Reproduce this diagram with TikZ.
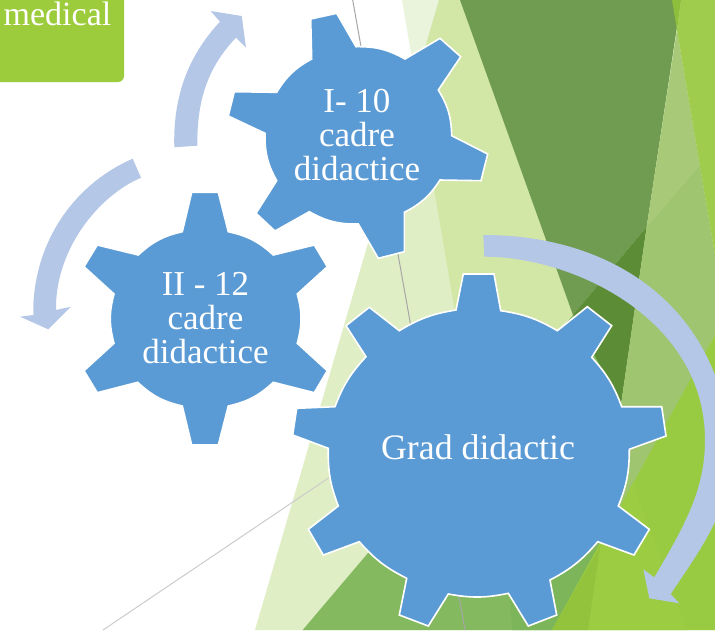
\documentclass[tikz,border=0pt]{standalone}
\usepackage{fontspec}
\setmainfont{Liberation Serif}
\definecolor{gearblue}{HTML}{5B9BD5}
\definecolor{arrowblue}{HTML}{B4C7E7}
\definecolor{boxgreen}{HTML}{9CCB3B}
\definecolor{paleA}{HTML}{E0EEC5}
\definecolor{paleB}{HTML}{EAF3DB}
\definecolor{paleC}{HTML}{D2E6A6}
\definecolor{darkA}{HTML}{6F9C50}
\definecolor{darkB}{HTML}{5C8D36}
\definecolor{midA}{HTML}{85B95F}
\definecolor{midB}{HTML}{7DB55A}
\definecolor{lightA}{HTML}{A8CA78}
\definecolor{lightB}{HTML}{A0C570}
\definecolor{brightA}{HTML}{99CB42}
\definecolor{brightB}{HTML}{9BCC41}
\definecolor{brightC}{HTML}{93C33D}
\definecolor{brightD}{HTML}{8DBE3C}
\definecolor{brightE}{HTML}{9FCC4C}
\tikzset{
  gearbody/.style={fill=gearblue,draw=white,line width=1.6pt,line join=miter},
  gearlabel/.style={text=white,align=center,font=\fontsize{35}{34}\selectfont,inner sep=0pt},
  cycle arrow/.style={fill=arrowblue,draw=none},
  rb/.style={bend left=#1},
}
\begin{document}
\begin{tikzpicture}[x=1pt,y=-1pt]
\useasboundingbox (0,0) rectangle (715,630);
\begin{scope}
\clip (0,0) rectangle (715,630);
\fill[white] (0,0) rectangle (715,630);
% background facets
\fill[paleA] (255,630) -- (439,0) -- (715,0) -- (715,630) -- cycle;
\fill[paleB] (402,0) -- (439,0) -- (415.6,80) -- cycle;
\fill[paleC] (439,0) -- (460,0) -- (573,315) -- (540,345) -- (460.6,345) -- (415.6,80) -- cycle;
\fill[darkA] (460,0) -- (681,0) -- (646.7,226.7) -- (573,315) -- cycle;
\fill[darkB] (573,315) -- (646.7,226.7) -- (621,405) -- (560,405) -- cycle;
\fill[midA] (302.7,630) -- (368,553) -- (573,315) -- (621,405) -- (600,547) -- (552,630) -- cycle;
\fill[midB] (510,600) -- (512,630) -- (552,630) -- (600,547) -- cycle;
\fill[lightA] (677,30) -- (646.7,226.7) -- (699.8,164.6) -- cycle;
\fill[lightB] (646.7,226.7) -- (699.8,164.6) -- (715,255) -- (715,335) -- (600,547) -- (600,405) -- (621,405) -- cycle;
\fill[brightD] (672,0) -- (681,0) -- (677,30) -- cycle;
\fill[brightE] (677,30) -- (681,0) -- (715,0) -- (715,255) -- cycle;
\fill[brightA] (552,630) -- (715,335) -- (715,630) -- cycle;
\fill[brightB] (600,547) -- (633,483) -- (687,630) -- (588,630) -- cycle;
\fill[brightC] (552,630) -- (600,547) -- (588,630) -- cycle;
% thin lines
\draw[color=black!35,line width=1pt] (352.7,0) -- (465,630);
\draw[color=black!20,line width=1pt] (103,630) -- (330,477);
% box
\fill[boxgreen] (0,-10) -- (124,-10) -- (124,76) arc[start angle=0,end angle=90,radius=6] -- (0,82) -- cycle;
\node[text=white,anchor=base east,font=\fontsize{34}{34}\selectfont,inner sep=0pt] (medical) at (111.5,25) {medical};
% arrows
\fill[cycle arrow] (174.3,147.3) .. controls (173,100) and (186,58) .. (220,21.7)
  -- (210.7,11) -- (241.7,16) -- (246,47.7) -- (236,37.7)
  .. controls (205,70) and (197,105) .. (197.3,145.7) -- cycle;
\fill[cycle arrow] (132.7,158.7) .. controls (68,187) and (32,250) .. (33.3,315)
  -- (20,316.7) -- (48.3,329.3) -- (71,306.7) -- (56,310)
  .. controls (55,250) and (98,196) .. (141,177.7) -- cycle;
\fill[cycle arrow] (483.3,235) .. controls (630,235) and (730,325) .. (730,460)
  .. controls (730,510) and (700,550) .. (670.7,594)
  -- (679.3,603.3) -- (649.3,598.3) -- (643.3,569.3) -- (654.3,577.3)
  .. controls (685,525) and (705,490) .. (705,440)
  .. controls (705,320) and (575,256.7) .. (484.3,256.7) -- cycle;
% gear I
\draw[gearbody] (310.7,19) -- (336.7,13.3) -- (356,46.7) to[rb=15] (405,59) -- (440,38.3) -- (460.7,56.7) -- (438.3,90) to[rb=15] (451.7,135.7)
 -- (487.7,154) -- (481,180.7) -- (440,180) to[rb=15] (404.3,212.3) -- (404.3,251.7) -- (378.3,258.3) -- (358.3,224) to[rb=15] (309.3,211.7)
 -- (275,231) -- (256,213.3) -- (276.7,180.7) to[rb=15] (265,133.3) -- (228.3,116) -- (234.3,91.7) -- (276.7,92.3) to[rb=15] (311.7,59) -- cycle;
\node[gearlabel] (gearone) at (357,134.8) {I- 10\\cadre\\didactice};
% gear II
\draw[gearbody] (191.7,192.3) -- (218.3,192.3) -- (228.3,231.7) to[rb=15] (273.3,255) -- (314.3,245) -- (327.3,266.7) -- (297.3,294) to[rb=15] (297.3,343.3)
 -- (327.3,370.7) -- (314.3,392.7) -- (273.3,382.3) to[rb=15] (228.3,406) -- (218.3,445) -- (191.7,445) -- (182.3,406) to[rb=15] (137.7,382.3)
 -- (97.3,392.7) -- (84,370.7) -- (114,343.3) to[rb=15] (114,294) -- (84,266.7) -- (97.3,245) -- (138.3,255) to[rb=15] (182.3,231.7) -- cycle;
\node[gearlabel] (geartwo) at (205.5,317.8) {II - 12\\cadre\\didactice};
% big gear
\draw[gearbody] (463.3,274) -- (494,274) -- (500.7,310.7) to[rb=11] (557.3,330.7) -- (587.3,306.7) -- (611.7,325.7) -- (591.7,357.3) to[rb=11] (621.7,406.7)
 -- (661.7,406.7) -- (666,436) -- (629.3,449.3) to[rb=11] (618.3,506) -- (649.3,529.3) -- (634,555) -- (597.7,541.7) to[rb=11] (550,580)
 -- (556.7,615) -- (528.3,626) -- (508.3,593.3) to[rb=11] (448.3,594) -- (428.3,626) -- (399.3,615) -- (406.7,578.3) to[rb=11] (359.3,541.7)
 -- (323.3,555) -- (308.3,529.3) -- (338.3,506) to[rb=11] (328.3,448.3) -- (292.7,435) -- (296.7,408.3) -- (335,406.7) to[rb=11] (366,356.7)
 -- (346,325.7) -- (369.3,307.3) -- (399.3,330.7) to[rb=11] (456,310) -- cycle;
\node[gearlabel,anchor=base,font=\fontsize{35.8}{34}\selectfont] (gearbig) at (478,459) {Grad didactic};
\end{scope}
\end{tikzpicture}
\end{document}
